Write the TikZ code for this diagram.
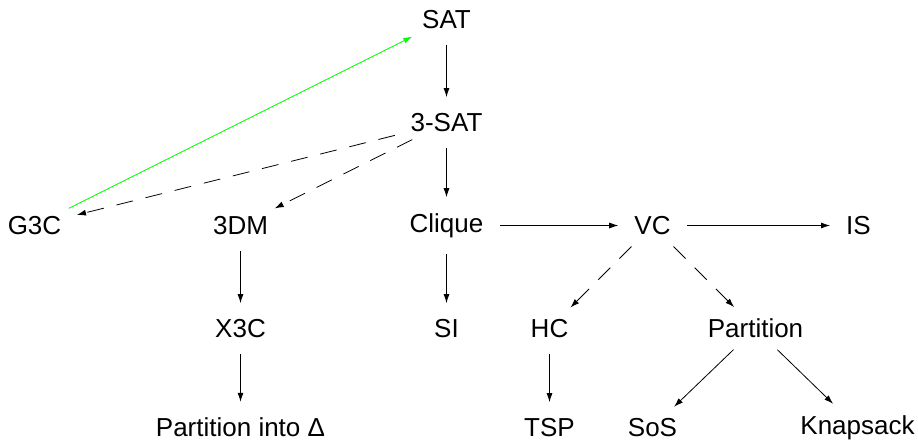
\documentclass[tikz,border=0pt]{standalone}
\usepackage{fontspec}
\setmainfont{Liberation Sans}
\usetikzlibrary{arrows.meta}
\begin{document}
\begin{tikzpicture}[x=1pt,y=-1pt,
  every node/.style={inner sep=1pt, font=\fontsize{26}{31}\selectfont},
  edge/.style={-{Latex[length=9pt,width=6pt]}, line width=0.8pt, shorten <=15pt, shorten >=15pt},
  dashedge/.style={edge, dash pattern=on 17pt off 13pt},
  greenedge/.style={edge, draw=green, fill=green}]
\useasboundingbox (0,0) rectangle (918,442);
\node (sat)   at (446.5, 19.5) {SAT};
\node (tsat)  at (446.5,122.5) {3-SAT};
\node (g3c)   at ( 34.5,225.5) {G3C};
\node (tdm)   at (240.5,225.5) {3DM};
\node (clq)   at (446.5,225.5) {Clique};
\node (vc)    at (652.5,225.5) {VC};
\node (is)    at (858.5,225.5) {IS};
\node (x3c)   at (240.5,328.5) {X3C};
\node (si)    at (446.5,328.5) {SI};
\node (hc)    at (549.5,328.5) {HC};
\node (part)  at (755.5,328.5) {Partition};
\node (pid)   at (240.5,427.5) {Partition into Δ};
\node (tsp)   at (549.5,427.5) {TSP};
\node (sos)   at (652.5,427.5) {SoS};
\node (knap)  at (857.5,427.5) {Knapsack};
\draw[edge] (sat) -- (tsat);
\draw[edge] (tsat) -- (clq);
\draw[dashedge] (tsat) -- (g3c);
\draw[dashedge] (tsat) -- (tdm);
\draw[greenedge] (g3c) -- (sat);
\draw[edge] (clq) -- (vc);
\draw[edge] (vc) -- (is);
\draw[edge] (clq) -- (si);
\draw[edge] (tdm) -- (x3c);
\draw[edge] (x3c) -- (pid);
\draw[dashedge] (vc) -- (hc);
\draw[dashedge] (vc) -- (part);
\draw[edge] (hc) -- (tsp);
\draw[edge] (part) -- (sos);
\draw[edge] (part) -- (knap);
\end{tikzpicture}
\end{document}
